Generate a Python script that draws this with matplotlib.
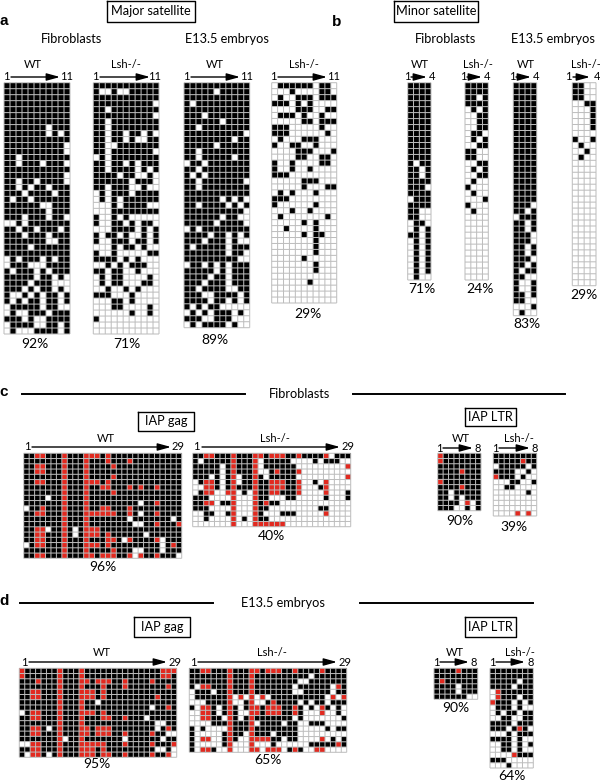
import numpy as np
import matplotlib
matplotlib.use('Agg')
import matplotlib.pyplot as plt
from matplotlib.colors import ListedColormap

plt.rcParams['font.family'] = ['Lato', 'DejaVu Sans']

# '#' metilado, '.' nao metilado, 'r' CpG em vermelho
maj_fib_wt = ['###########'] * 7 + [
    '#######.###', '#######.#.#', '###########', '##########.', '##########.',
    '##.########', '##.###.###.', '###########', '##########.', '##.##.####.',
    '##.#.##.###', '###.####.##', '#.##.######', '######..###', '#######.###',
    '###.###.##.', '..#.#######', '##.##.###.#', '###.###.###', '#######..##',
    '####.######', '###########', '.#.###.#.##', '.###...####', '#.###.#.###',
    '#####.##.#.', '####.###...', '###.#.##.#.', '#..#.#.##.#', '#.#.##.##.#',
    '.#####.##..', '.#..###.###', '###.#..####', '.####..##.#', '.#...####.#']
maj_fib_lsh = [
    '###########', '#..#..#####', '###########', '##########.', '##.########',
    '##########.', '##.########', '##.########', '##.##.##.#.', '##.##.#..##',
    '##..#######', '##.#######.', '.#.########', '##.##.#.###', '##.####.#.#',
    '####.##..#.', '######.###.', '##.###..#..', '.#.###.####', '.#.#.######',
    '...#.####..', '...########', '#..#.#.....', '#..##.#.##.', '...####.#.#',
    '#.##.#..#.#', '#..###.##.#', '...#.##.#..', '#..#.....##', '####.#.#...',
    '..#.#.###..', '##.##..#...', '.#.##....#.', '.#.##...##.', '..#..#.#...',
    '###...#....', '...##.#....', '...##....#.', '......#..#.', '#..........',
    '...........', '...........']
maj_emb_wt = [
    '###########', '#####.#####', '###########', '#.#########', '###########',
    '###.#######', '######.####', '##.########', '##########.', '########.##',
    '#####.#####', '##.########', '##.#####.##', '.##.#######', '##.########',
    '#.#.#######', '##.#######.', '##.########', '###########', '######.#.#.',
    '##.####.#.#', '##########.', '######.##..', '#####.####.', '.#.########',
    '####.##.#.#', '###.###.#..', '#.#####.###', '#######.##.', '#########..',
    '.##.#.#.###', '#####.#.###', '####.##.###', '###.###.###', '##.####..##',
    '###..####.#', '####.##.#.#', '#.#.##.....', '.#.#.###.#.', '###..###...',
    '.#.####.#..']
maj_emb_lsh = [
    '.######.##.', '...#....##.', '.#..###.###', '###.#.#....', '....###..##',
    '.###.#..#..', '.....##.###', '###.....#..', '###......#.', '.#...###...',
    '#..##..#...', '....###...#', '....##..##.', '#..#....##.', '#..#..#....',
    '###........', '.....###...', '.....#...##', '.#.#...#...', '###........',
    '#......#...', '...#..#....', '.#.......#.', '.....#.#...', '..#....#...',
    '.....#.##..', '.......#...', '.......#...', '.......#...', '.....#.....',
    '.......#...', '.......#...', '...........', '......#....', '...........',
    '...........', '...........']

min_fib_wt = ['####'] * 13 + [
    '#.##', '##.#', '##.#', '####', '###.', '####', '.###', '####', '##..',
    '##..', '.##.', '.#.#', '##.#', '.#.#', '.#.#', '.#.#', '.#.#', '.#.#',
    '.#.#', '.#..']
min_fib_lsh = [
    '####', '####', '##.#', '####', '.#.#', '..##', '..##', '..##', '.##.',
    '.#.#', '..##', '##..', '##..', '..##', '.#.#', '..##', '.#..', '#...',
    '.#..', '...#', '#...', '.#..'] + ['....'] * 11
min_emb_wt = ['####'] * 20 + [
    '###.', '##.#', '.###', '##.#', '##.#', '###.', '###.', '##.#', '##.#',
    '###.', '##.#', '#.##', '##..', '#..#', '#..#', '##.#', '##..', '...#',
    '.#..']
min_emb_lsh = [
    '##..', '##..', '##..', '..##', '...#', '...#', '...#', '...#', '....',
    '#..#', '.#..', '..#.', '.#..'] + ['....'] * 21

# IAP gag: colunas vermelhas e brancas/pretas por linha
c_wt_red = [
    [2, 3, 7, 11, 12, 13, 15], [7, 11, 15, 19], [2, 3, 7, 11, 16], [2, 3, 7, 11],
    [7, 11, 16], [2, 3, 7, 11, 12, 13, 15], [7, 11, 14, 15, 19, 21, 24], [7, 11, 16],
    [7, 11], [7, 11, 24], [3, 7, 11, 14, 15, 19],
    [2, 3, 7, 11, 12, 13, 14, 15, 16, 19, 24], [7, 11], [7, 11, 24, 28],
    [2, 3, 7, 11, 12, 13], [2, 3, 7, 11, 12, 13, 15], [2, 3, 7, 11, 15, 16, 19, 24],
    [2, 3, 7, 11, 12, 13, 15, 27], [7, 11, 16], [2, 3, 7, 11, 12, 14, 15, 16, 19, 21, 24]]
c_wt_white = [
    [], [], [], [], [], [], [], [], [4], [21], [0], [21], [19, 27], [20, 21], [4, 9],
    [9, 22], [18, 25], [0, 25], [20, 21, 25], [20, 28]]
c_lsh_red = [
    [2, 3, 7, 11, 12, 14, 15, 16, 19, 24], [7, 11], [7, 11, 28], [7, 11, 15, 19],
    [7, 11, 28], [2, 3, 7, 11, 14, 15, 16, 19, 24], [2, 3, 7, 11, 14, 15, 16, 19, 24],
    [2, 3, 6, 7, 11, 14, 15, 19, 24], [7, 11], [2, 3, 7, 11, 13], [7, 11], [7, 11, 24],
    [7, 11], [7, 11, 12, 13, 14, 15, 16]]
c_lsh_black = [
    [0, 1, 4, 5, 6, 8, 9, 10, 13, 17, 18, 20, 21, 22, 23, 26, 27, 28],
    [0, 2, 3, 4, 5, 6, 8, 9, 10, 13, 14, 15, 16, 17, 22, 24, 25, 26],
    [0, 1, 2, 3, 4, 6, 8, 9, 10, 13, 14, 15, 16, 17, 18],
    [0, 1, 2, 3, 4, 6, 8, 9, 10, 14, 16, 17, 18],
    [0, 1, 2, 4, 6, 9, 10, 12, 14, 15, 16, 17, 18],
    [1, 4, 6, 9, 10, 12, 13, 17, 18, 22],
    [4, 6, 8, 9, 10, 12, 13, 17, 18, 23],
    [1, 9, 12, 13, 16, 17, 18, 28],
    [0, 1, 2, 12, 13, 17, 18, 24, 28],
    [0, 1, 5, 6, 12, 14, 15],
    [0, 1, 2, 12, 13, 23, 24],
    [2, 3, 6, 12, 16, 17, 18],
    [2, 9, 12, 13],
    []]

d_wt_red = [
    [0, 7, 11, 26, 27, 28], [0, 7, 11, 26, 27], [3, 7, 11, 12, 14, 15, 16, 19, 24],
    [7, 11, 15, 19, 27], [2, 3, 7, 11, 12, 13, 15], [2, 3, 7, 11, 12, 13, 15, 25],
    [7, 11], [7, 11, 27], [2, 3, 7, 11, 12, 13, 15], [2, 3, 7, 11, 15, 16, 19], [7, 11],
    [2, 3, 7, 11, 12, 14, 15, 16, 27], [2, 3, 7, 11, 12, 14, 15, 16, 19, 24], [7, 11],
    [2, 3, 7, 11, 12, 13, 14, 15, 19, 24, 28], [2, 3, 7, 11, 12, 13, 15],
    [2, 3, 7, 11, 12, 13, 15, 16, 19, 24, 27]]
d_wt_white = [
    [], [], [], [], [], [], [14], [24], [0], [23], [25, 26], [5, 25], [27, 28],
    [8, 19, 26], [0, 1], [25, 26, 28], [1, 5, 28]]
d_lsh_red = [
    [2, 3, 7, 11, 12, 14, 15, 16, 19, 24], [7, 11], [7, 11], [2, 3, 7, 11, 27], [7, 11],
    [7, 9, 11, 13, 26, 28], [7, 11, 15], [2, 3, 7, 11, 12, 14, 15, 16, 19, 24],
    [2, 3, 7, 11, 12, 14, 15, 16, 19, 24], [2, 3, 7, 11], [7, 11], [7, 11], [7, 11],
    [2, 3, 7, 11, 12, 13, 14, 24], [7, 11, 27], [2, 3, 7, 11, 12, 14, 15, 16, 19, 23, 24]]
d_lsh_white_top = [
    [], [22], [20, 21], [1, 19, 26], [0, 4, 19, 20, 26], [0, 8, 10, 12, 14, 25, 27],
    [0, 1, 2, 8, 9, 12, 13, 20, 22, 25], [1, 5, 9, 21, 23, 26, 28]]
d_lsh_black_bot = [
    [4, 6, 8, 13, 17, 18, 20, 27],
    [4, 5, 8, 10, 12, 13, 14, 15, 16, 17, 18, 20, 28],
    [4, 5, 6, 8, 9, 10, 13, 14, 15, 16, 18, 19, 22, 23, 24],
    [0, 2, 8, 9, 10, 12, 13, 14, 15, 16, 17, 18, 19, 25, 27, 28],
    [0, 6, 8, 9, 12, 13, 14, 16, 17, 18, 19],
    [0, 6, 8, 15, 16, 18, 19, 26, 28],
    [0, 6, 15, 22, 23, 24, 25, 26, 28],
    [0, 4, 18, 20]]

# IAP LTR
c_ltr_wt = [
    'r#######', 'r#######', '########', '####r###', '########', 'r#######',
    '####r###', '##.#####', '##.#.###', '####.r.#', '###..#.#']
c_ltr_lsh = [
    '########', '#####r##', '.#####.#', '####..#.', 'r###.#..', '...##..#',
    '..##....', '......#.', '........', '........', '........', '....r.r.']
d_ltr_wt = [
    '####r###', '########', '#r######', '####.###', '####.###', '######..']
d_ltr_lsh = [
    '########', '########', '#####.##', '####.###', '.r######', '.r###.##',
    'r###.#.#', '.###.#..', '.#.##.##', '..##..##', '####.###', '###.#r#.',
    '...#.###', '####.#..', '..##.#.#', '..##.#..', '....r###', '###.....',
    '...#....']

rotulos_pct = ['92%', '71%', '89%', '29%', '71%', '24%', '83%', '29%',
               '96%', '40%', '90%', '39%', '95%', '65%', '90%', '64%']

VAL = {'.': 0, '#': 1, 'r': 2}
cmap = ListedColormap(['white', 'black', '#e2291f'])


def from_strings(rows):
    return np.array([[VAL[c] for c in row] for row in rows])


def from_lists(reds, whites=None, blacks=None, ncol=29):
    # whites: fundo preto; blacks: fundo branco
    if whites is not None:
        grid = np.ones((len(reds), ncol), dtype=int)
        for i, cols in enumerate(whites):
            grid[i, cols] = 0
    else:
        grid = np.zeros((len(reds), ncol), dtype=int)
        for i, cols in enumerate(blacks):
            grid[i, cols] = 1
    for i, cols in enumerate(reds):
        grid[i, cols] = 2
    return grid


d_lsh_grid = np.vstack([
    from_lists(d_lsh_red[:8], whites=d_lsh_white_top),
    from_lists(d_lsh_red[8:], blacks=d_lsh_black_bot)])

fig = plt.figure(figsize=(6, 7.81), dpi=100)
ax = fig.add_axes([0, 0, 1, 1])


def draw_grid(grid, x0, x1, y0, y1):
    nrow, ncol = grid.shape
    xe = np.linspace(x0, x1, ncol + 1)
    ye = np.linspace(y0, y1, nrow + 1)
    ax.pcolormesh(xe, ye, grid, cmap=cmap, vmin=0, vmax=2)
    # linhas finas por cima, sem snap para nao engrossar
    v = ax.vlines(xe, y0, y1, colors='#bdbdbd', linewidth=0.72)
    h = ax.hlines(ye, x0, x1, colors='#bdbdbd', linewidth=0.72)
    v.set_snap(False)
    h.set_snap(False)


def arrow(x0, x1, y, left, right, lx, rx):
    ax.annotate('', xy=(x1, y), xytext=(x0, y),
                arrowprops=dict(arrowstyle='-|>,head_length=0.8,head_width=0.22',
                                lw=1, color='black', mutation_scale=10,
                                shrinkA=0, shrinkB=0))
    ax.text(lx, y, left, fontsize=8, ha='center', va='center')
    ax.text(rx, y, right, fontsize=8, ha='center', va='center')


def boxed(x, y, s, w, h):
    ax.text(x, y, s, fontsize=9.2, ha='center', va='center')
    ax.plot([x - w / 2, x + w / 2, x + w / 2, x - w / 2, x - w / 2],
            [y - h / 2, y - h / 2, y + h / 2, y + h / 2, y - h / 2],
            color='black', lw=1)


# grade, extensao, rotulo, seta e percentagem de cada painel
panels = [
    (from_strings(maj_fib_wt), 4, 70, 82.7, 334, 'WT', 33, 65, (11, 60, 77, '1', '11', 6, 67), 35, 344),
    (from_strings(maj_fib_lsh), 93.3, 159, 82.7, 334, 'Lsh-/-', 126, 65, (100, 150, 77, '1', '11', 95, 155), 127, 344),
    (from_strings(maj_emb_wt), 184, 249.7, 82.7, 327.7, 'WT', 215, 65, (191, 240, 77, '1', '11', 186, 247), 215, 340),
    (from_strings(maj_emb_lsh), 271.7, 336.7, 82.7, 303, 'Lsh-/-', 304, 65, (278, 327, 77, '1', '11', 273, 334), 308, 314),
    (from_strings(min_fib_wt), 407.7, 431, 82.7, 280, 'WT', 420, 65, (411, 427, 77, '1', '4', 407, 432), 422, 289),
    (from_strings(min_fib_lsh), 465, 488.3, 82.7, 280, 'Lsh-/-', 478, 65, (467, 482, 77, '1', '4', 463, 487), 480, 289),
    (from_strings(min_emb_wt), 513.3, 536.7, 82.7, 315.7, 'WT', 526, 65, (516, 531, 77, '1', '4', 512, 536), 527, 324),
    (from_strings(min_emb_lsh), 572.3, 596, 82.7, 285.7, 'Lsh-/-', 586, 65, (573, 590, 77, '1', '4', 568, 597), 584, 295),
    (from_lists(c_wt_red, whites=c_wt_white), 23.7, 181.7, 453.3, 558.3, 'WT', 106, 438, (32, 171, 447, '1', '29', 27, 178), 103, 567),
    (from_lists(c_lsh_red, blacks=c_lsh_black), 192.7, 350.7, 453.3, 526.7, 'Lsh-/-', 275, 439, (202, 340, 447, '1', '29', 196, 348), 271, 536),
    (from_strings(c_ltr_wt), 437.7, 481, 453.3, 510.7, 'WT', 461, 438, (443, 473, 448, '1', '8', 439, 478), 460, 521),
    (from_strings(c_ltr_lsh), 493.3, 536.7, 453.3, 516, 'Lsh-/-', 519, 439, (499, 530, 448, '1', '8', 495, 535), 514, 527),
    (from_lists(d_wt_red, whites=d_wt_white), 19.3, 176.7, 668.3, 757.3, 'WT', 102, 653, (29, 167, 662, '1', '29', 24, 175), 97, 764),
    (d_lsh_grid, 189.3, 346.7, 668.3, 752.3, 'Lsh-/-', 272, 653, (198, 337, 662, '1', '29', 193, 345), 268, 760),
    (from_strings(d_ltr_wt), 434, 477.7, 668.3, 699.3, 'WT', 455, 652, (440, 469, 662, '1', '8', 436, 474), 456, 708),
    (from_strings(d_ltr_lsh), 490, 533.3, 668.3, 768, 'Lsh-/-', 520, 652, (496, 525, 662, '1', '8', 492, 531), 512, 776),
]

for p, pct in zip(panels, rotulos_pct):
    grid, x0, x1, y0, y1, lab, lx, ly, arr, px, py = p
    draw_grid(grid, x0, x1, y0, y1)
    ax.text(lx, ly, lab, fontsize=8, ha='center', va='center')
    arrow(*arr)
    ax.text(px, py, pct, fontsize=10, ha='center', va='center')

# titulos
boxed(151, 11, 'Major satellite', 88, 21)
boxed(436, 11, 'Minor satellite', 84, 21)
boxed(166, 421, 'IAP gag', 56, 19)
boxed(490, 417, 'IAP LTR', 51, 18)
boxed(162, 627, 'IAP gag', 56, 20)
boxed(490, 627, 'IAP LTR', 51, 20)

for x, s in [(72, 'Fibroblasts'), (227, 'E13.5 embryos'), (445, 'Fibroblasts'), (553, 'E13.5 embryos')]:
    ax.text(x, 39, s, fontsize=9.2, ha='center', va='center')
ax.text(300, 394, 'Fibroblasts', fontsize=9.2, ha='center', va='center')
ax.text(283, 603, 'E13.5 embryos', fontsize=9.2, ha='center', va='center')

for x, y, s in [(4, 21, 'a'), (337, 22, 'b'), (4, 392, 'c'), (4, 601, 'd')]:
    ax.text(x, y, s, fontsize=11, fontweight='bold', family='Liberation Sans', ha='center', va='center')

# linhas dos paineis c e d
for x0, x1, y in [(22, 245, 394), (353, 565, 394), (20, 213, 603), (360, 533, 603)]:
    ax.plot([x0, x1], [y, y], color='black', lw=1.4)

ax.set_xlim(0, 600)
ax.set_ylim(781, 0)
ax.axis('off')

fig.savefig('out.png', dpi=100)
